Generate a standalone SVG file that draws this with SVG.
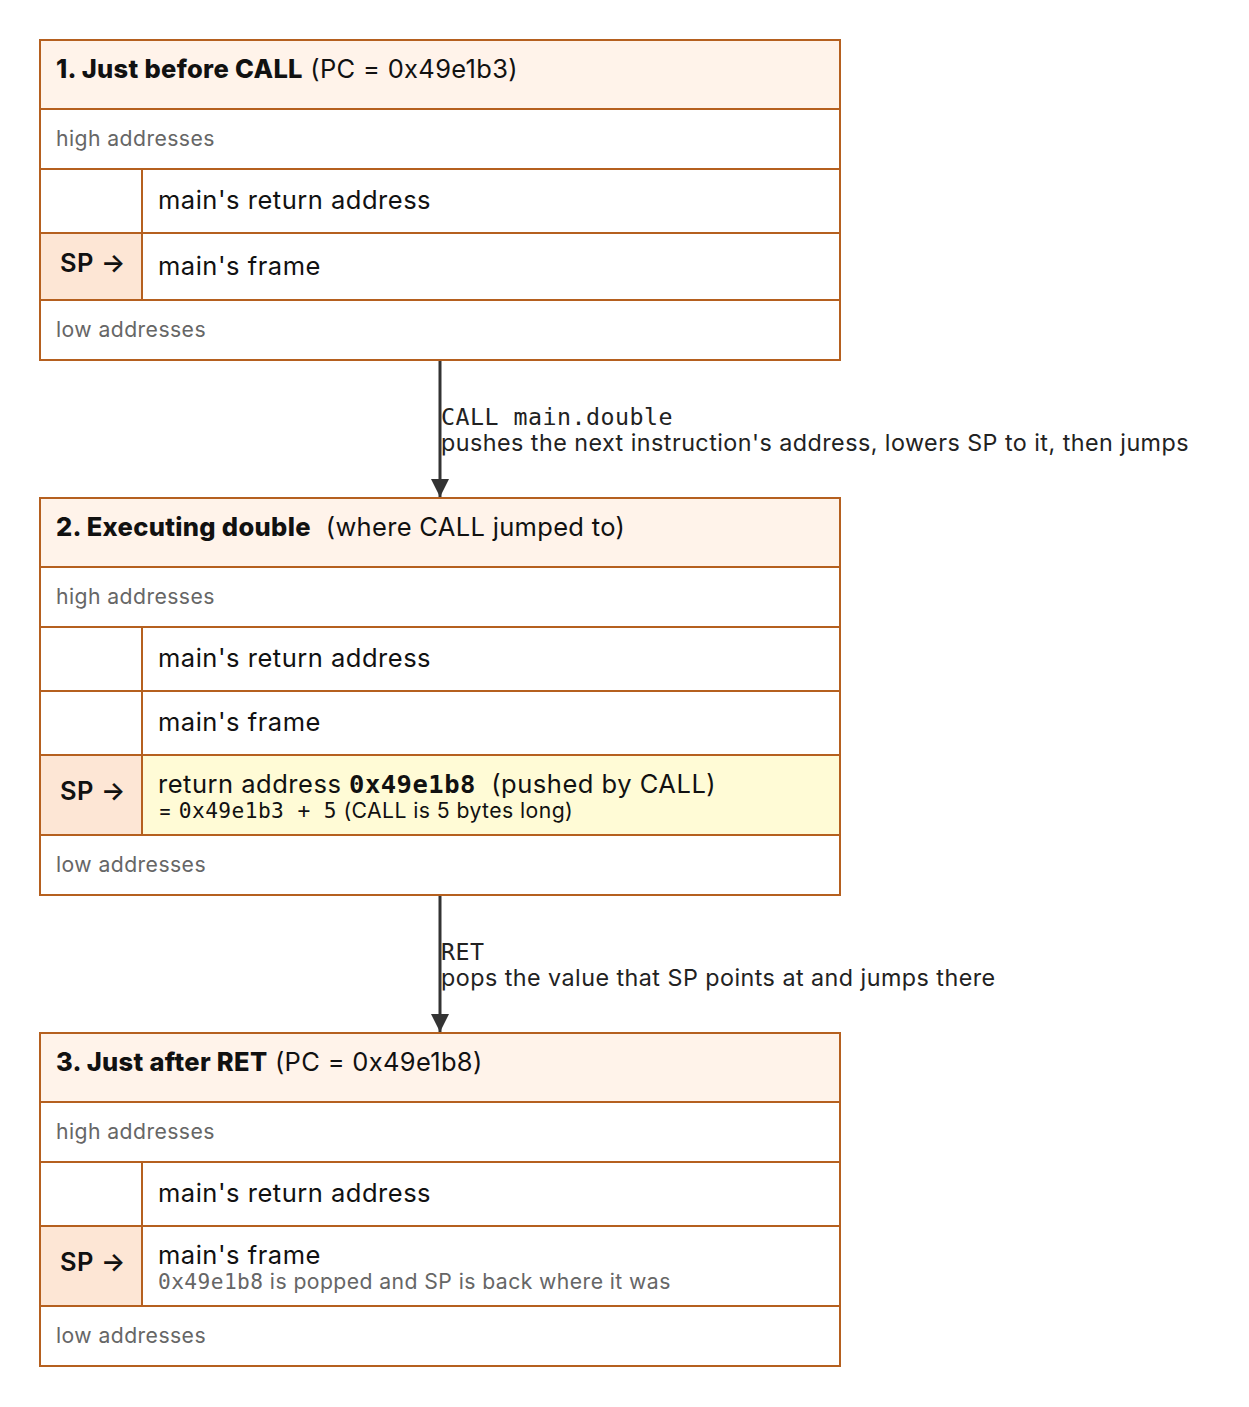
<svg xmlns="http://www.w3.org/2000/svg" width="1249" height="1407" viewBox="0 0 1249 1407">
<defs>
<style>
.bx{fill:#ffffff;stroke:#b5601f;stroke-width:2}
.hd{fill:#fff3ea;stroke:#b5601f;stroke-width:2}
.sp{fill:#fde6d5;stroke:#b5601f;stroke-width:2}
.hl{fill:#fffbd6;stroke:#b5601f;stroke-width:2}
.ln{stroke:#b5601f;stroke-width:2;fill:none}
text{font-family:Inter,"Liberation Sans",sans-serif;fill:#111;letter-spacing:0.02em;white-space:pre}
.t{font-size:25.5px;font-weight:800}
.tn{font-size:25.5px;font-weight:400}
.m{font-size:25.5px}
.g{font-size:21.2px;fill:#666}
.s{font-size:25.5px;font-weight:600}
.sub{font-size:21.2px}
.mono{font-family:"DejaVu Sans Mono","Liberation Mono",monospace}
.lab{font-size:23.3px;fill:#222}
.con{stroke:#333;stroke-width:3;fill:none}
</style>
<marker id="ah" viewBox="0 0 10 10" refX="10" refY="5" markerWidth="6" markerHeight="6" markerUnits="strokeWidth" orient="auto">
<path d="M0,0 L10,5 L0,10 z" fill="#333"/>
</marker>
</defs>

<g id="connectors">
<line class="con" x1="440" y1="360" x2="440" y2="497" marker-end="url(#ah)"/>
<text class="lab mono" x="441" y="425">CALL main.double</text>
<text class="lab" x="441" y="451">pushes the next instruction's address, lowers SP to it, then jumps</text>
<line class="con" x1="440" y1="895" x2="440" y2="1032" marker-end="url(#ah)"/>
<text class="lab mono" x="441" y="960">RET</text>
<text class="lab" x="441" y="986">pops the value that SP points at and jumps there</text>
</g>

<g id="stage1">
<rect class="hd" x="40" y="40" width="800" height="69"/>
<text x="56" y="78"><tspan class="t">1. Just before CALL</tspan><tspan class="tn"> (PC = 0x49e1b3)</tspan></text>
<rect class="bx" x="40" y="109" width="800" height="60"/>
<text class="g" x="56" y="146">high addresses</text>
<rect class="bx" x="40" y="169" width="800" height="64"/>
<line class="ln" x1="142" y1="169" x2="142" y2="233"/>
<text class="m" x="158" y="209">main's return address</text>
<rect class="bx" x="40" y="233" width="800" height="67"/>
<rect class="sp" x="40" y="233" width="102" height="67"/>
<text class="s" x="60" y="272">SP →</text>
<text class="m" x="158" y="275">main's frame</text>
<rect class="bx" x="40" y="300" width="800" height="60"/>
<text class="g" x="56" y="337">low addresses</text>
</g>

<g id="stage2">
<rect class="hd" x="40" y="498" width="800" height="69"/>
<text x="56" y="536"><tspan class="t">2. Executing double</tspan><tspan class="tn">  (where CALL jumped to)</tspan></text>
<rect class="bx" x="40" y="567" width="800" height="60"/>
<text class="g" x="56" y="604">high addresses</text>
<rect class="bx" x="40" y="627" width="800" height="64"/>
<line class="ln" x1="142" y1="627" x2="142" y2="691"/>
<text class="m" x="158" y="667">main's return address</text>
<rect class="bx" x="40" y="691" width="800" height="64"/>
<line class="ln" x1="142" y1="691" x2="142" y2="755"/>
<text class="m" x="158" y="731">main's frame</text>
<rect class="hl" x="40" y="755" width="800" height="80"/>
<rect class="sp" x="40" y="755" width="102" height="80"/>
<text class="s" x="60" y="800">SP →</text>
<text class="m" x="158" y="793">return address <tspan class="mono" font-weight="700">0x49e1b8</tspan>  (pushed by CALL)</text>
<text class="sub" x="158" y="818">= <tspan class="mono">0x49e1b3 + 5</tspan> (CALL is 5 bytes long)</text>
<rect class="bx" x="40" y="835" width="800" height="60"/>
<text class="g" x="56" y="872">low addresses</text>
</g>

<g id="stage3">
<rect class="hd" x="40" y="1033" width="800" height="69"/>
<text x="56" y="1071"><tspan class="t">3. Just after RET</tspan><tspan class="tn"> (PC = 0x49e1b8)</tspan></text>
<rect class="bx" x="40" y="1102" width="800" height="60"/>
<text class="g" x="56" y="1139">high addresses</text>
<rect class="bx" x="40" y="1162" width="800" height="64"/>
<line class="ln" x1="142" y1="1162" x2="142" y2="1226"/>
<text class="m" x="158" y="1202">main's return address</text>
<rect class="bx" x="40" y="1226" width="800" height="80"/>
<rect class="sp" x="40" y="1226" width="102" height="80"/>
<text class="s" x="60" y="1271">SP →</text>
<text class="m" x="158" y="1264">main's frame</text>
<text class="g" x="158" y="1289"><tspan class="mono">0x49e1b8</tspan> is popped and SP is back where it was</text>
<rect class="bx" x="40" y="1306" width="800" height="60"/>
<text class="g" x="56" y="1343">low addresses</text>
</g>
</svg>
